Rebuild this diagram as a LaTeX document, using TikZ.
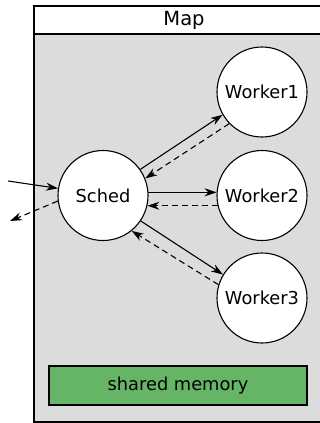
\documentclass[tikz,border=0pt]{standalone}
\usepackage{fontspec}
\setmainfont{DejaVu Sans}
\usetikzlibrary{arrows.meta}

\definecolor{mapgray}{HTML}{DCDCDC}
\definecolor{memgreen}{HTML}{66B566}

\tikzstyle{proc} = [circle, draw, fill=white, line width=1.1pt, minimum size=90pt, inner sep=0pt, font=\fontsize{17.8}{20}\selectfont]
\tikzstyle{mem} = [draw, fill=memgreen, line width=1.1pt, minimum width=258pt, minimum height=39pt, font=\fontsize{17.8}{20}\selectfont]
\tikzstyle{msg} = [line width=1.1pt, -{Stealth[length=12pt, width=8pt]}]
\tikzstyle{reply} = [msg, dash pattern=on 6pt off 4pt]

\begin{document}
\begin{tikzpicture}[x=1pt, y=-1pt]
\useasboundingbox (0,0) rectangle (320,423);

% map box
\draw[line width=1.1pt, fill=mapgray] (34,34) rectangle (330,422);
\draw[line width=1.1pt, fill=white] (34,6) rectangle (330,34);
\node[font=\fontsize{19.5}{22}\selectfont] (title) at (184,20) {Map};

% processes
\node[proc] (sched) at (103,195.5) {Sched};
\node[proc] (w1) at (262,92) {Worker1};
\node[proc] (w2) at (262,195.5) {Worker2};
\node[proc] (w3) at (262,298) {Worker3};

\node[mem] (shm) at (178,385.5) {shared memory};

% in and out
\coordinate (in) at (8,181);
\coordinate (out) at (10,221);
\draw[msg] (in) -- (sched.171);
\draw[reply] (sched.187) -- (out);

% messages
\draw[msg] (sched.35) -- (w1.210);
\draw[reply] (w1.224) -- (sched.22);
\draw[msg] (sched.4) -- (w2.176);
\draw[reply] (w2.193) -- (sched.347);
\draw[msg] (sched.326) -- (w3.149);
\draw[reply] (w3.163) -- (sched.309);
\end{tikzpicture}
\end{document}
